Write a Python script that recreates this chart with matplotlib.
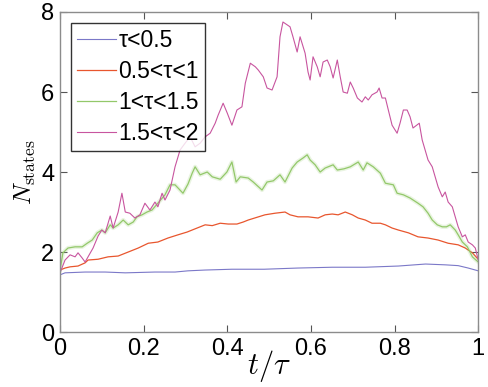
import matplotlib.pyplot as plt
import numpy as np

plt.rcParams['font.family'] = ['Liberation Sans', 'DejaVu Sans']
plt.rcParams['mathtext.fontset'] = 'cm'

# tau < 0.5
t_blue = [0, 0.012, 0.060, 0.108, 0.156, 0.227, 0.275, 0.306, 0.347, 0.411, 0.467,
          0.488, 0.569, 0.651, 0.730, 0.809, 0.874, 0.921, 0.952, 0.976, 1.0]
n_blue = [1.43, 1.48, 1.50, 1.50, 1.48, 1.50, 1.50, 1.53, 1.55, 1.57, 1.57,
          1.57, 1.60, 1.62, 1.62, 1.65, 1.70, 1.68, 1.66, 1.60, 1.53]

# 0.5 < tau < 1
t_red = [0, 0.012, 0.024, 0.043, 0.060, 0.067, 0.091, 0.115, 0.139, 0.163, 0.187,
         0.211, 0.234, 0.258, 0.282, 0.304, 0.323, 0.347, 0.364, 0.383, 0.402, 0.423,
         0.438, 0.450, 0.490, 0.514, 0.538, 0.550, 0.569, 0.593, 0.617, 0.634, 0.651,
         0.665, 0.682, 0.699, 0.713, 0.730, 0.746, 0.766, 0.778, 0.794, 0.809, 0.833,
         0.856, 0.880, 0.904, 0.928, 0.952, 0.969, 0.986, 1.0]
n_red = [1.55, 1.60, 1.63, 1.65, 1.73, 1.80, 1.82, 1.88, 1.90, 2.00, 2.10,
         2.22, 2.25, 2.35, 2.43, 2.50, 2.58, 2.68, 2.66, 2.72, 2.70, 2.70,
         2.75, 2.80, 2.93, 2.97, 3.00, 2.93, 2.88, 2.88, 2.85, 2.93, 2.95,
         2.93, 3.00, 2.93, 2.85, 2.80, 2.72, 2.72, 2.68, 2.60, 2.55, 2.48,
         2.38, 2.35, 2.30, 2.22, 2.18, 2.10, 1.98, 1.82]

# 1 < tau < 1.5
t_green = [0, 0.007, 0.019, 0.036, 0.053, 0.065, 0.077, 0.089, 0.100, 0.108, 0.120,
           0.127, 0.139, 0.151, 0.163, 0.175, 0.184, 0.196, 0.208, 0.220, 0.251, 0.263,
           0.275, 0.294, 0.306, 0.316, 0.323, 0.335, 0.352, 0.364, 0.383, 0.399, 0.411,
           0.421, 0.431, 0.450, 0.462, 0.483, 0.495, 0.510, 0.526, 0.538, 0.555, 0.567,
           0.581, 0.591, 0.598, 0.610, 0.622, 0.634, 0.653, 0.663, 0.679, 0.694, 0.713,
           0.725, 0.734, 0.749, 0.766, 0.778, 0.797, 0.806, 0.821, 0.837, 0.856, 0.868,
           0.880, 0.890, 0.902, 0.914, 0.924, 0.933, 0.945, 0.952, 0.962, 0.974, 0.986, 1.0]
n_green = [1.55, 1.98, 2.10, 2.13, 2.13, 2.22, 2.30, 2.48, 2.55, 2.48, 2.68,
           2.60, 2.68, 2.80, 2.68, 2.75, 2.88, 2.93, 3.00, 3.05, 3.43, 3.68,
           3.68, 3.47, 3.70, 3.97, 4.13, 3.93, 4.00, 3.88, 3.82, 4.00, 4.25,
           3.75, 3.88, 3.85, 3.75, 3.55, 3.75, 3.78, 3.93, 3.75, 4.10, 4.25,
           4.35, 4.43, 4.30, 4.18, 4.00, 4.10, 4.18, 4.05, 4.08, 4.13, 4.25,
           4.05, 4.23, 4.13, 3.97, 3.72, 3.68, 3.47, 3.43, 3.35, 3.22, 3.13,
           2.97, 2.80, 2.68, 2.63, 2.63, 2.68, 2.55, 2.43, 2.25, 2.13, 1.88, 1.75]

# 1.5 < tau < 2
t_mag = [0, 0.012, 0.024, 0.036, 0.043, 0.053, 0.060, 0.067, 0.079, 0.091, 0.100,
         0.108, 0.120, 0.127, 0.139, 0.148, 0.156, 0.167, 0.179, 0.191, 0.203, 0.215,
         0.227, 0.234, 0.244, 0.251, 0.263, 0.275, 0.287, 0.299, 0.311, 0.323, 0.335,
         0.347, 0.359, 0.371, 0.378, 0.390, 0.400, 0.411, 0.423, 0.435, 0.443, 0.455,
         0.467, 0.474, 0.486, 0.495, 0.507, 0.519, 0.526, 0.533, 0.550, 0.557, 0.567,
         0.574, 0.586, 0.593, 0.598, 0.605, 0.615, 0.622, 0.629, 0.639, 0.646, 0.653,
         0.663, 0.670, 0.677, 0.687, 0.694, 0.701, 0.711, 0.722, 0.730, 0.737, 0.746,
         0.758, 0.763, 0.770, 0.778, 0.785, 0.794, 0.806, 0.813, 0.821, 0.830, 0.837,
         0.844, 0.859, 0.866, 0.873, 0.880, 0.890, 0.897, 0.904, 0.914, 0.921, 0.928,
         0.938, 0.945, 0.952, 0.962, 0.969, 0.976, 0.986, 0.993, 1.0]
n_mag = [1.48, 1.80, 1.93, 1.88, 1.98, 1.85, 1.75, 1.88, 2.10, 2.40, 2.55,
         2.48, 2.90, 2.60, 3.00, 3.47, 3.00, 2.97, 2.85, 2.93, 3.22, 3.05,
         3.25, 3.13, 3.47, 3.30, 3.55, 4.13, 4.55, 4.72, 4.88, 4.63, 4.72,
         4.88, 4.97, 5.22, 5.42, 5.72, 5.47, 5.17, 5.55, 5.63, 6.22, 6.72,
         6.63, 6.55, 6.38, 6.10, 6.05, 6.38, 7.38, 7.75, 7.63, 7.38, 7.00,
         7.38, 6.97, 6.50, 6.30, 6.88, 6.63, 6.38, 6.75, 6.80, 6.63, 6.35,
         6.80, 6.38, 6.00, 5.97, 6.25, 6.10, 5.85, 5.75, 5.88, 5.80, 5.93,
         6.00, 6.10, 5.85, 5.85, 5.55, 5.17, 4.97, 5.22, 5.55, 5.55, 5.38,
         5.10, 5.22, 4.80, 4.55, 4.30, 4.13, 3.88, 3.63, 3.38, 3.50, 3.25,
         3.13, 2.88, 2.63, 2.38, 2.43, 2.25, 2.18, 2.10, 1.80]

labels = ['τ<0.5', '0.5<τ<1', '1<τ<1.5', '1.5<τ<2']
colors = ['#7b78c8', '#e8562e', '#93c86a', '#c8559f']

fig = plt.figure(figsize=(4.88, 3.87), dpi=100)
ax = fig.add_axes([0.123, 0.142, 0.857, 0.827])

ax.plot(t_blue, n_blue, color=colors[0], lw=0.8, label=labels[0])
ax.plot(t_red, n_red, color=colors[1], lw=0.9, label=labels[1])
ax.plot(t_green, n_green, color=colors[2], lw=3.0, alpha=0.2)
ax.plot(t_green, n_green, color=colors[2], lw=0.9, label=labels[2])
ax.plot(t_mag, n_mag, color=colors[3], lw=0.8, label=labels[3])

ax.set_xlim(0, 1)
ax.set_ylim(0, 8)
ax.set_xticks([0, 0.2, 0.4, 0.6, 0.8, 1])
ax.set_xticklabels(['0', '0.2', '0.4', '0.6', '0.8', '1'])
ax.set_yticks([0, 2, 4, 6, 8])
ax.tick_params(direction='in', length=5, width=0.8, color='#555555',
               labelsize=17, top=True, right=True, pad=4)
for s in ax.spines.values():
    s.set_color('#8c8c8c')
    s.set_linewidth(1.0)

ax.set_xlabel(r'$t/\tau$', fontsize=22, labelpad=-8)
ax.set_ylabel(r'$N_{\rm states}$', fontsize=18, labelpad=2)

leg = ax.legend(loc='upper left', fontsize=16.5, frameon=True, fancybox=False,
                edgecolor='black', handlelength=1.7, handletextpad=0.1,
                borderpad=0.25, labelspacing=0.35, borderaxespad=0.5)
leg.get_frame().set_linewidth(1.0)

fig.savefig('out.png', dpi=100)
